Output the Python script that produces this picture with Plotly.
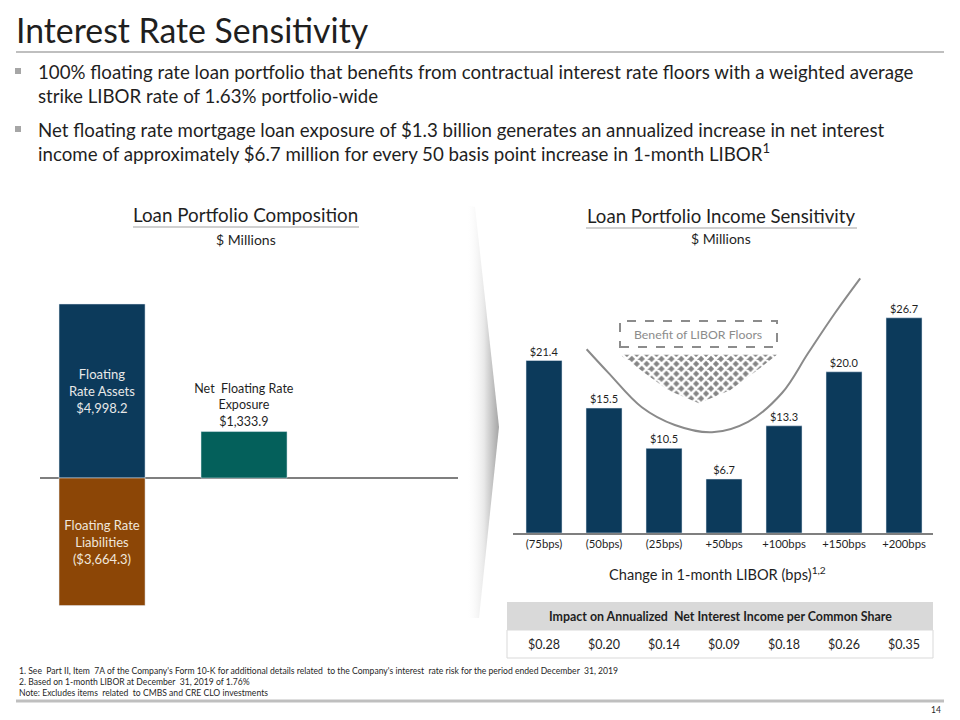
import plotly.graph_objects as go

# ---------------- data ----------------
assets = 4998.2
liabilities = -3664.3
net_exposure = 1333.9

sens_labels = ["(75bps)", "(50bps)", "(25bps)", "+50bps", "+100bps", "+150bps", "+200bps"]
sens_values = [21.4, 15.5, 10.5, 6.7, 13.3, 20.0, 26.7]
per_share = ["$0.28", "$0.20", "$0.14", "$0.09", "$0.18", "$0.26", "$0.35"]

# decorative "floor benefit" curve and funnel, in right-chart data units
curve_x = [0.71, 1.07, 1.63, 2.18, 2.80, 3.40, 3.97, 4.40, 4.85, 5.27]
curve_y = [22.8, 19.9, 15.6, 13.4, 12.5, 13.8, 17.4, 22.3, 27.3, 31.6]
floor_x = [1.27, 3.88, 3.52, 3.10, 2.58, 2.07, 1.65, 1.27]
floor_y = [22.1, 22.1, 20.0, 17.7, 16.1, 17.7, 20.0, 22.1]

NAVY = "#0c3a5b"
BROWN = "#8c4606"
TEAL = "#04605b"
TXT = "#1f1f1f"
GRAY_LINE = "#bfbfbf"
FONT = "Lato"

W, H = 960, 720
def px(x):
    return x / W
def py(y):
    return 1 - y / H

fig = go.Figure()

# ---------- left chart: composition ----------
fig.add_trace(go.Bar(x=[0], y=[assets], width=0.606, marker_color=NAVY,
                     text=[f"Floating<br>Rate Assets<br>${assets:,.1f}"],
                     textposition="inside", insidetextanchor="middle", constraintext="none",
                     textfont=dict(color="#e8e8e8", size=13, family=FONT),
                     xaxis="x", yaxis="y", hoverinfo="skip", showlegend=False))
fig.add_trace(go.Bar(x=[0], y=[liabilities], width=0.606, marker_color=BROWN,
                     text=[f"Floating Rate<br>Liabilities<br>(${-liabilities:,.1f})"],
                     textposition="inside", insidetextanchor="middle", constraintext="none",
                     textfont=dict(color="#f0e6dc", size=13, family=FONT),
                     xaxis="x", yaxis="y", hoverinfo="skip", showlegend=False))
fig.add_trace(go.Bar(x=[1], y=[net_exposure], width=0.606, marker_color=TEAL,
                     text=[f"Net  Floating Rate<br>Exposure<br>${net_exposure:,.1f}"],
                     textposition="outside", constraintext="none", cliponaxis=False,
                     textfont=dict(color=TXT, size=12.5, family=FONT),
                     xaxis="x", yaxis="y", hoverinfo="skip", showlegend=False))

# ---------- right chart: sensitivity ----------
fig.add_trace(go.Bar(x=list(range(len(sens_values))), y=sens_values, width=0.6,
                     marker_color=NAVY,
                     text=[f"${v:.1f}" for v in sens_values], textposition="outside",
                     cliponaxis=False,
                     textfont=dict(color=TXT, size=11, family=FONT),
                     xaxis="x2", yaxis="y2", hoverinfo="skip", showlegend=False))

fig.add_trace(go.Scatter(x=floor_x, y=floor_y, mode="lines", fill="toself",
                         line=dict(width=0, color="rgba(0,0,0,0)"),
                         fillpattern=dict(shape="x", bgcolor="#858585", fgcolor="white",
                                          size=7, solidity=0.6, fillmode="replace"),
                         xaxis="x2", yaxis="y2", hoverinfo="skip", showlegend=False))
fig.add_trace(go.Scatter(x=curve_x, y=curve_y, mode="lines",
                         line=dict(color="#8a8a8a", width=2, shape="spline", smoothing=1.0),
                         xaxis="x2", yaxis="y2", hoverinfo="skip", showlegend=False))

# ---------- chevron divider (canvas axis in pixels) ----------
fig.add_trace(go.Scatter(x=[466, 475, 499, 479, 468, 466], y=[205, 207, 427, 618, 618, 205],
                         mode="lines", fill="toself", line=dict(width=0, color="rgba(0,0,0,0)"),
                         fillgradient=dict(type="horizontal", start=466, stop=499,
                                           colorscale=[[0, "rgba(255,255,255,0)"],
                                                       [0.55, "rgba(232,232,232,1)"],
                                                       [1, "rgba(165,165,165,1)"]]),
                         xaxis="x3", yaxis="y3", hoverinfo="skip", showlegend=False))

# ---------- shapes ----------
shapes = []
def hline(x0, x1, y, color=GRAY_LINE, width=2):
    shapes.append(dict(type="line", xref="paper", yref="paper", x0=px(x0), x1=px(x1),
                       y0=py(y), y1=py(y), line=dict(color=color, width=width)))

hline(16, 944, 52, width=2)            # under title
hline(133, 359, 227, color="#d0d0d0")  # under left chart title
hline(586, 857, 228, color="#d0d0d0")  # under right chart title
hline(16, 944, 701, width=3)           # footer line

# bullets
for yb in (71, 129):
    shapes.append(dict(type="rect", xref="paper", yref="paper", x0=px(15), x1=px(21),
                       y0=py(yb + 3), y1=py(yb - 3), fillcolor="#a6a6a6", line=dict(width=0)))

# dashed "Benefit of LIBOR Floors" box
shapes.append(dict(type="rect", xref="paper", yref="paper", x0=px(620), x1=px(777),
                   y0=py(347), y1=py(321), line=dict(color="#8c8c8c", width=2, dash="dash"),
                   fillcolor="rgba(255,255,255,0)"))

# table
shapes.append(dict(type="rect", xref="paper", yref="paper", x0=px(507), x1=px(933),
                   y0=py(630), y1=py(602), fillcolor="#d9d9d9", line=dict(width=0)))
shapes.append(dict(type="rect", xref="paper", yref="paper", x0=px(507), x1=px(933),
                   y0=py(658), y1=py(630), fillcolor="white",
                   line=dict(color="#d9d9d9", width=1)))

# ---------- annotations ----------
ann = []
def text(x, y, s, size, color=TXT, xanchor="center", align="center", bold=False, **kw):
    if bold:
        s = f"<b>{s}</b>"
    d = dict(x=x, y=y, text=s, showarrow=False, xanchor=xanchor, yanchor="middle",
             align=align, font=dict(size=size, color=color, family=FONT))
    d.setdefault("xref", "paper")
    d.setdefault("yref", "paper")
    d.update(kw)
    ann.append(d)

text(px(14), py(30), "Interest Rate Sensitivity", 33.8, xanchor="left")
text(px(36), py(84),
     "100% floating rate loan portfolio that benefits from contractual interest rate floors with a weighted average<br>"
     "strike LIBOR rate of 1.63% portfolio-wide", 18.7, xanchor="left", align="left")
text(px(36), py(142),
     "Net floating rate mortgage loan exposure of $1.3 billion generates an annualized increase in net interest<br>"
     "income of approximately $6.7 million for every 50 basis point increase in 1-month LIBOR<sup>1</sup>",
     18.7, xanchor="left", align="left")

text(px(246), py(214), "Loan Portfolio Composition", 18.8)
text(px(246), py(240), "$ Millions", 14)
text(px(721), py(216), "Loan Portfolio Income Sensitivity", 18.6)
text(px(721), py(239), "$ Millions", 14)

text(px(698), py(334), "Benefit of LIBOR Floors", 12.3, color="#8c8c8c")
text(px(717), py(573), "Change in 1-month LIBOR (bps)<sup>1,2</sup>", 14.6)

text(px(720), py(616), "Impact on Annualized  Net Interest Income per Common Share", 12.4, bold=True)
for i, v in enumerate(per_share):
    text(i, py(644), v, 12.5, xref="x2")

text(px(17), py(682),
     "1. See  Part II, Item  7A of the Company's Form 10-K for additional details related  to the Company's interest  rate risk for the period ended December  31, 2019<br>"
     "2. Based on 1-month LIBOR at December  31, 2019 of 1.76%<br>"
     "Note: Excludes items  related  to CMBS and CRE CLO investments",
     8.6, xanchor="left", align="left")
text(px(936), py(710), "14", 8.5)

fig.update_layout(
    width=W, height=H, margin=dict(l=0, r=0, t=0, b=0),
    paper_bgcolor="white", plot_bgcolor="rgba(0,0,0,0)",
    barmode="relative", showlegend=False,
    font=dict(family=FONT, color=TXT),
    shapes=shapes, annotations=ann,
    xaxis=dict(domain=[px(40), px(458)], range=[-0.437, 2.507], visible=False,
               anchor="y", fixedrange=True),
    yaxis=dict(domain=[py(615), py(290)], range=[-3935, 5400], showgrid=False,
               showticklabels=False, zeroline=True, zerolinecolor="#7f7f7f",
               zerolinewidth=1.5, anchor="x", fixedrange=True),
    xaxis2=dict(domain=[px(513), px(933)], range=[-0.517, 6.483],
                tickvals=list(range(len(sens_labels))), ticktext=sens_labels,
                tickfont=dict(size=11.3, color=TXT, family=FONT), showline=True,
                linecolor="#7f7f7f", linewidth=1.5, showgrid=False, zeroline=False,
                ticks="", anchor="y2", fixedrange=True),
    yaxis2=dict(domain=[py(533), py(255)], range=[0, 34.49], visible=False,
                anchor="x2", fixedrange=True),
    xaxis3=dict(domain=[0, 1], range=[0, W], visible=False, anchor="y3", fixedrange=True),
    yaxis3=dict(domain=[0, 1], range=[H, 0], visible=False, anchor="x3", fixedrange=True),
)

fig.write_html("out.html", config={"displayModeBar": False},
               post_script="document.body.style.margin='0px';document.body.style.padding='0px';document.body.style.overflow='hidden';")
